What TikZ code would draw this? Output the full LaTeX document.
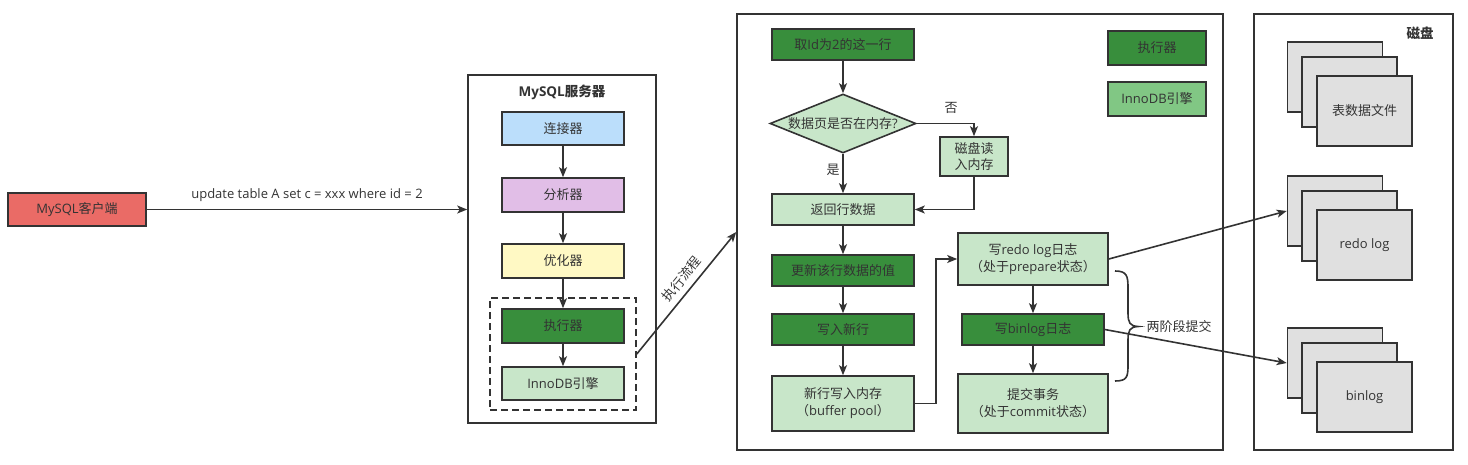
\documentclass[tikz,border=0pt]{standalone}
\usepackage{fontspec}
\setmainfont{Noto Sans CJK SC}
\newfontfamily\latfont{Open Sans}
\newcommand\ltn[1]{{\latfont #1}}
\usetikzlibrary{arrows.meta,shapes.geometric}
\definecolor{ln}{HTML}{333333}
\definecolor{txt}{HTML}{333333}
\definecolor{cred}{HTML}{EA6B66}
\definecolor{cblue}{HTML}{BBDEFB}
\definecolor{cpurple}{HTML}{E1BEE7}
\definecolor{cyellow}{HTML}{FFF9C4}
\definecolor{dgreen}{HTML}{388E3C}
\definecolor{lgreen}{HTML}{C8E6C9}
\definecolor{mgreen}{HTML}{81C784}
\definecolor{pagegray}{HTML}{E0E0E0}
\tikzset{
  base/.style={draw=ln, line width=1.6pt, inner sep=0pt, text=txt, align=center, font=\fontsize{13}{17}\selectfont},
  box/.style={base, rectangle, minimum width=#1},
  box/.default=142pt,
  container/.style={draw=ln, line width=1.6pt, inner sep=0pt, rectangle},
  pagebox/.style={base, fill=pagegray, minimum width=95pt, minimum height=70pt},
  arr/.style={draw=ln, line width=1.6pt, -{Stealth[length=10pt,width=8pt,inset=2.5pt]}},
  lbl/.style={text=txt, font=\fontsize{13}{17}\selectfont, inner sep=1pt},
  ttl/.style={text=txt, font=\fontsize{13.5}{16}\selectfont\bfseries, inner sep=0pt},
}
\begin{document}
\begin{tikzpicture}[x=1pt,y=-1pt]
\useasboundingbox (0,0) rectangle (1468,464);
% containers
\node[container, minimum width=188pt, minimum height=348pt] (server) at (562,249) {};
\node[ttl] (servertitle) at (562,92) {\ltn{MySQL}服务器};
\node[container, dashed, dash pattern=on 7pt off 4pt, minimum width=146pt, minimum height=112pt] (dashbox) at (563,354) {};
\node[container, minimum width=486pt, minimum height=436pt] (midbox) at (980,232) {};
\node[container, minimum width=199pt, minimum height=436pt] (diskbox) at (1353.5,232) {};
\node[ttl] (disktitle) at (1420,33) {磁盘};

% client
\node[box=138pt, fill=cred, minimum height=33pt] (client) at (77,209.5) {\ltn{MySQL}客户端};

% server components
\node[box=122pt, fill=cblue, minimum height=33pt] (conn) at (563,128.5) {连接器};
\node[box=122pt, fill=cpurple, minimum height=34pt] (ana) at (563,195) {分析器};
\node[box=122pt, fill=cyellow, minimum height=34pt] (opt) at (563,261) {优化器};
\node[box=122pt, fill=dgreen, minimum height=34pt] (exec) at (563,326) {执行器};
\node[box=122pt, fill=lgreen, minimum height=33pt] (inno) at (563,383.5) {\ltn{InnoDB}引擎};

% middle flow
\node[box, fill=dgreen, minimum height=31pt] (take) at (843,44.5) {取\ltn{Id}为\ltn{2}的这一行};
\node[base, diamond, fill=lgreen, minimum width=146pt, minimum height=59pt, aspect=2.47] (dia) at (843,123.5) {数据页是否在内存\ltn{?}};
\node[box=68pt, fill=lgreen, minimum height=39pt] (diskread) at (974,156.5) {磁盘读\\[-1pt]入内存};
\node[box, fill=lgreen, minimum height=31pt] (ret) at (843,209.5) {返回行数据};
\node[box, fill=dgreen, minimum height=31pt] (upd) at (843,270.5) {更新该行数据的值};
\node[box, fill=dgreen, minimum height=31pt] (wnew) at (843,329.5) {写入新行};
\node[box, fill=lgreen, minimum height=55pt] (mem) at (843,403.5) {新行写入内存\\（\ltn{buffer pool}）};
\node[box=150pt, fill=lgreen, minimum height=52pt] (redo) at (1033,259) {写\ltn{redo log}日志\\（处于\ltn{prepare}状态）};
\node[box, fill=dgreen, minimum height=31pt] (binl) at (1033,329.5) {写\ltn{binlog}日志};
\node[box=150pt, fill=lgreen, minimum height=59pt] (commit) at (1033,403.5) {提交事务\\（处于\ltn{commit}状态）};
\node[box=98pt, fill=dgreen, minimum height=34pt] (legexec) at (1157,48) {执行器};
\node[box=98pt, fill=mgreen, minimum height=34pt] (leginno) at (1157,99) {\ltn{InnoDB}引擎};

% disk pages
\node[pagebox] (s1a) at (1335,77) {};
\node[pagebox] (s1b) at (1349.5,92) {};
\node[pagebox] (s1c) at (1364.5,111) {表数据文件};
\node[pagebox] (s2a) at (1335,211) {};
\node[pagebox] (s2b) at (1349.5,226) {};
\node[pagebox] (s2c) at (1364.5,245) {\ltn{redo log}};
\node[pagebox] (s3a) at (1335,363) {};
\node[pagebox] (s3b) at (1349.5,378) {};
\node[pagebox] (s3c) at (1364.5,397) {\ltn{binlog}};

% arrows
\draw[arr] (client.east) -- node[lbl, above=6pt, font=\fontsize{13}{17}\selectfont\latfont] {update table A set c = xxx where id = 2} (client.east -| server.west);
\draw[arr] (conn) -- (ana);
\draw[arr] (ana) -- (opt);
\draw[arr] (opt) -- (exec);
\draw[arr] (exec) -- (inno);
\draw[arr] (dashbox.east) -- node[lbl, sloped, above=5pt, pos=0.55] {执行流程} (midbox.west);

\draw[arr] (take) -- (dia);
\draw[arr] (dia.east) -| (diskread.north);
\node[lbl] (nolbl) at (951,108) {否};
\draw[arr] (dia.south) -- (ret.north);
\node[lbl] (yeslbl) at (833,170) {是};
\draw[arr] (diskread.south) |- (ret.east);
\draw[arr] (ret) -- (upd);
\draw[arr] (upd) -- (wnew);
\draw[arr] (wnew) -- (mem);
\draw[arr] (mem.east) -- ++(21,0) coordinate (bend) |- (redo.west);
\draw[arr] (redo) -- (binl);
\draw[arr] (binl) -- (commit);
\draw[arr] (redo.east) -- (s2a.west);
\draw[arr] (binl.east) -- (s3a.west);

% brace
\draw[ln, line width=1.6pt] (1115,271) .. controls (1127,271) and (1128,276) .. (1128,288) -- (1128,313) .. controls (1128,323) and (1130,326) .. (1138,326.5) .. controls (1130,327) and (1128,330) .. (1128,340) -- (1128,365) .. controls (1128,377) and (1127,381) .. (1115,381);
\node[lbl] (twophase) at (1179,327) {两阶段提交};
\end{tikzpicture}
\end{document}
